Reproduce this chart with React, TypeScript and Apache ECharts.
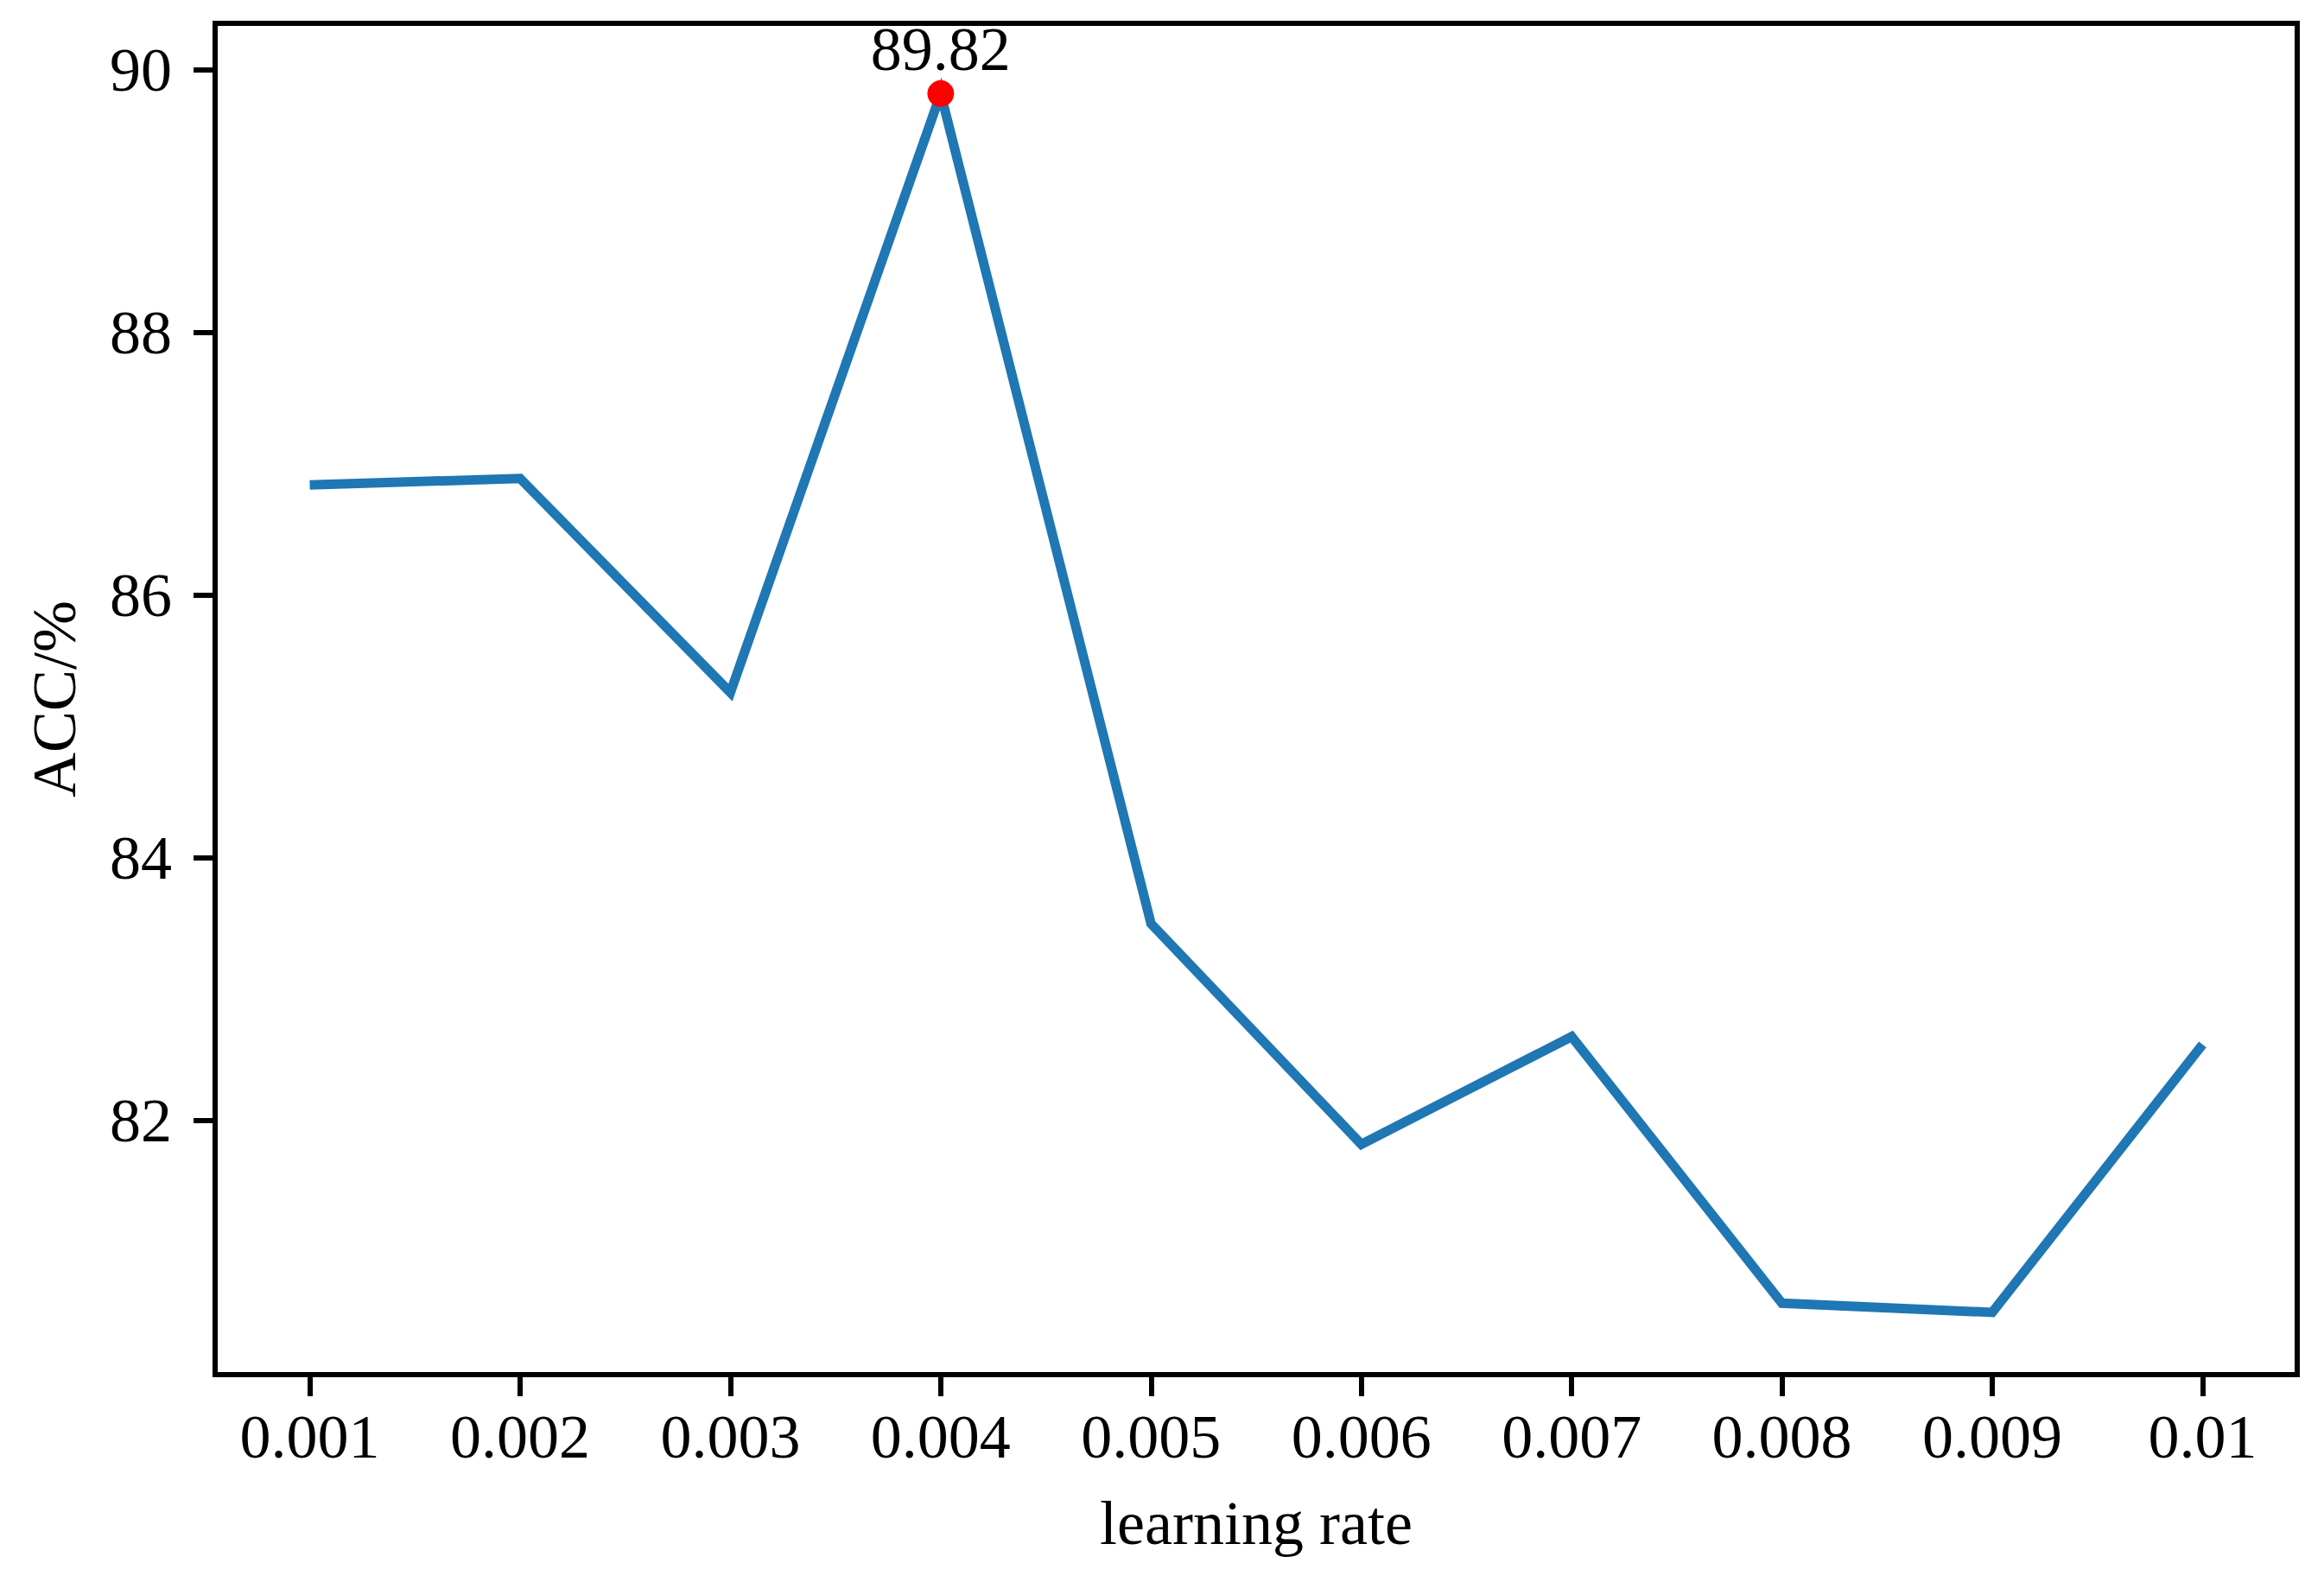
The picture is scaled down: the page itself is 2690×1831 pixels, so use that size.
import React, { useEffect, useRef } from "react";
import * as echarts from "echarts";

const learningRates = [0.001, 0.002, 0.003, 0.004, 0.005, 0.006, 0.007, 0.008, 0.009, 0.01];
const tickLabels = ["0.001", "0.002", "0.003", "0.004", "0.005", "0.006", "0.007", "0.008", "0.009", "0.01"];
const accValues = [86.84, 86.89, 85.26, 89.82, 83.5, 81.82, 82.64, 80.61, 80.54, 82.58];
const yTicks = [82, 84, 86, 88, 90];
const bestPoint = [0.004, 89.82];

const FONT = "'Liberation Serif', 'Times New Roman', serif";

export default function App() {
  const ref = useRef<HTMLDivElement>(null);
  useEffect(() => {
    if (!ref.current) return;
    const chart = echarts.init(ref.current, undefined, { renderer: "svg" });
    const axisLine = { show: true, lineStyle: { color: "#000", width: 6 } };
    const axisTick = { show: true, inside: false, length: 25, lineStyle: { color: "#000", width: 6 } };
    chart.setOption({
      animation: false,
      backgroundColor: "#fff",
      grid: {
        left: 249,
        right: 31,
        top: 27,
        bottom: 240,
        show: true,
        borderColor: "#000",
        borderWidth: 6,
        backgroundColor: "transparent",
      },
      xAxis: {
        type: "value",
        min: 0.00055,
        max: 0.01045,
        axisLine,
        axisTick: { ...axisTick, customValues: learningRates },
        splitLine: { show: false },
        axisLabel: {
          customValues: learningRates,
          margin: 36,
          fontFamily: FONT,
          fontSize: 72,
          color: "#000",
          formatter: (v: number) => {
            const i = learningRates.findIndex((r) => Math.abs(r - v) < 1e-9);
            return i >= 0 ? tickLabels[i] : "";
          },
        },
        name: "learning rate",
        nameLocation: "middle",
        nameGap: 136,
        nameTextStyle: { fontFamily: FONT, fontSize: 72, color: "#000" },
      },
      yAxis: {
        type: "value",
        min: 80.066,
        max: 90.355,
        axisLine,
        axisTick: { ...axisTick, customValues: yTicks },
        splitLine: { show: false },
        axisLabel: {
          customValues: yTicks,
          margin: 50,
          fontFamily: FONT,
          fontSize: 72,
          color: "#000",
        },
        name: "ACC/%",
        nameLocation: "middle",
        nameGap: 150,
        nameTextStyle: { fontFamily: FONT, fontSize: 72, color: "#000" },
      },
      series: [
        {
          type: "line",
          data: learningRates.map((x, i) => [x, accValues[i]]),
          showSymbol: false,
          symbol: "none",
          lineStyle: { color: "#1f77b4", width: 11, join: "miter" },
          z: 2,
        },
        {
          type: "scatter",
          data: [bestPoint],
          symbol: "circle",
          symbolSize: 31,
          itemStyle: { color: "#ff0000", opacity: 1 },
          label: {
            show: true,
            position: "top",
            distance: 0,
            formatter: () => String(bestPoint[1]),
            fontFamily: FONT,
            fontSize: 72,
            color: "#000",
            opacity: 1,
          },
          z: 3,
        },
      ],
    });
    return () => chart.dispose();
  }, []);
  return (
    <div
      ref={ref}
      style={{ position: "fixed", left: 0, top: 0, width: 2690, height: 1831, background: "#fff" }}
    />
  );
}
